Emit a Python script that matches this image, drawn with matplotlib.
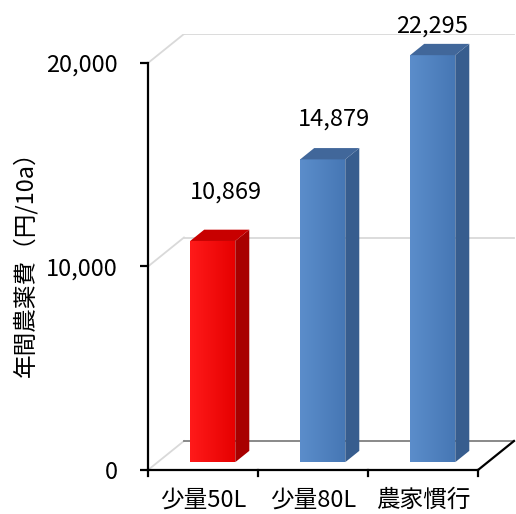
import numpy as np
import matplotlib.pyplot as plt
from matplotlib.patches import Polygon
from matplotlib.ticker import FuncFormatter

plt.rcParams['font.family'] = ['Noto Sans CJK JP', 'DejaVu Sans']

# data
categories = ['少量50L', '少量80L', '農家慣行']
values = [10869, 14879, 22295]
value_labels = ['10,869', '14,879', '22,295']
yticks = [0, 10000, 20000]
ylabel = '年間農薬費（円/10a）'

# colours (front, side, top)
front_cols = [('#ff1a1a', '#e60000'), ('#5b8dcb', '#4677b4'), ('#5b8dcb', '#4677b4')]
side_cols = ['#a80000', '#375d8e', '#375d8e']
top_cols = ['#c80000', '#41679a', '#41679a']

# fake 3d geometry
ymax = 20000
D = 0.327        # depth in x units
DY = 1425        # depth in y units
f0, f1 = 0.27, 0.66   # bar front / back inside the depth
bw = 0.41
fs = 17

fig = plt.figure(figsize=(5.16, 5.14), dpi=100)
ax = fig.add_axes([148 / 516, 44 / 514, 368 / 516, 436 / 514])

for s in ['top', 'right', 'bottom']:
    ax.spines[s].set_visible(False)
ax.spines['left'].set_bounds(0, ymax)
ax.spines['left'].set_linewidth(1.6)
ax.set_yticks(yticks)
ax.yaxis.set_major_formatter(FuncFormatter(lambda v, p: f'{int(v):,}'))
ax.tick_params(axis='y', length=6, width=1.6, pad=16, labelsize=fs)
ax.set_xticks([])

n = len(categories)
grid = '#d9d9d9'
# back wall gridlines and left wall diagonals
for v in yticks[1:]:
    ax.plot([-0.5 + D, n - 0.5 + D], [v + DY, v + DY], color=grid, lw=1.3, zorder=1)
    ax.plot([-0.5, -0.5 + D], [v, v + DY], color=grid, lw=1.3, zorder=1)
ax.plot([-0.5, -0.5 + D], [0, DY], color=grid, lw=1.3, zorder=1)
# floor
ax.plot([-0.5 + D, n - 0.5 + D], [DY, DY], color='#808080', lw=1.3, zorder=1)
ax.plot([-0.5, n - 0.5], [0, 0], color='black', lw=1.6, zorder=2, clip_on=False)
ax.plot([n - 0.5, n - 0.5 + D], [0, DY], color='black', lw=1.6, zorder=2, clip_on=False)
for i in range(n + 1):
    ax.plot([i - 0.5, i - 0.5], [0, -280], color='black', lw=1.6, clip_on=False, zorder=2)

label_dx = [0.12, 0.10, -0.01]
label_dy = [27, 21, 13]
for i, v in enumerate(values):
    h = min(v, ymax)
    x0 = i - bw / 2 + f0 * D
    x1 = x0 + bw
    yb = f0 * DY
    yt = h + f0 * DY
    ddx = (f1 - f0) * D
    ddy = (f1 - f0) * DY
    front = Polygon([(x0, yb), (x1, yb), (x1, yt), (x0, yt)], closed=True,
                    facecolor='none', edgecolor='none', zorder=3)
    ax.add_patch(front)
    c1, c2 = front_cols[i]
    grad = np.linspace(0, 1, 64)
    cmap = plt.matplotlib.colors.LinearSegmentedColormap.from_list('g', [c1, c2])
    im = ax.imshow(grad[None, :], cmap=cmap, extent=(x0, x1, yb, yt), aspect='auto',
                   zorder=3, interpolation='bilinear')
    im.set_clip_path(front)
    ax.add_patch(Polygon([(x1, yb), (x1 + ddx, yb + ddy), (x1 + ddx, yt + ddy), (x1, yt)],
                         closed=True, facecolor=side_cols[i], edgecolor='none', zorder=3))
    ax.add_patch(Polygon([(x0, yt), (x1, yt), (x1 + ddx, yt + ddy), (x0 + ddx, yt + ddy)],
                         closed=True, facecolor=top_cols[i], edgecolor='none', zorder=3))
    ax.annotate(value_labels[i], xy=((x0 + x1) / 2 + label_dx[i], yt), xytext=(0, label_dy[i]),
                textcoords='offset points', ha='center', va='bottom', fontsize=fs, zorder=4)

ax.set_xlim(-0.5, -0.5 + 368 / 110)
ax.set_ylim(0, ymax + DY)

for i, c in enumerate(categories):
    ax.text(i, -1500, c, ha='center', va='center', fontsize=fs, clip_on=False)

fig.text(25 / 516, 1 - 258 / 514, ylabel, rotation=90, ha='center', va='center', fontsize=fs)

fig.savefig('out.png', dpi=100)
